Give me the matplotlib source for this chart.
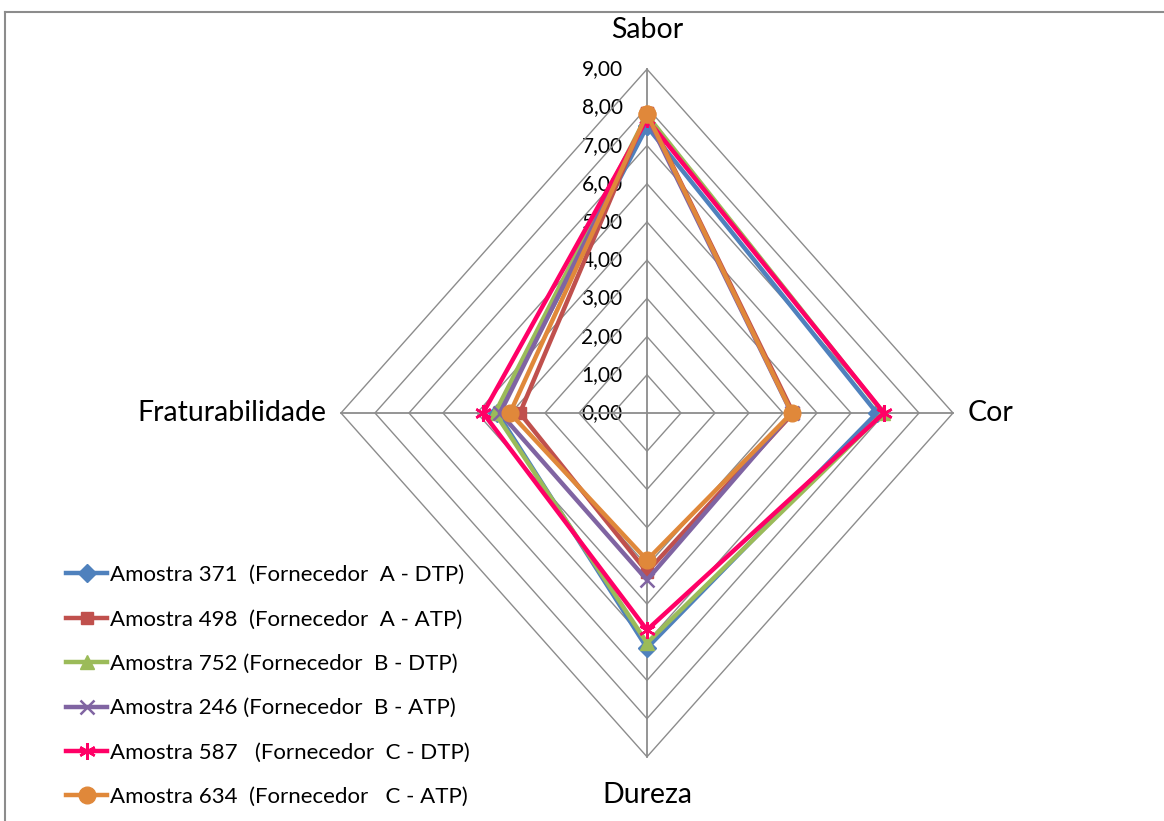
import numpy as np
import matplotlib
matplotlib.use("Agg")
import matplotlib.pyplot as plt
from matplotlib.lines import Line2D

plt.rcParams['font.family'] = ['Lato', 'DejaVu Sans']

# attributes, clockwise from the top
categories = ['Sabor', 'Cor', 'Dureza', 'Fraturabilidade']

labels = [
    'Amostra 371  (Fornecedor  A - DTP)',
    'Amostra 498  (Fornecedor  A - ATP)',
    'Amostra 752 (Fornecedor  B - DTP)',
    'Amostra 246 (Fornecedor  B - ATP)',
    'Amostra 587   (Fornecedor  C - DTP)',
    'Amostra 634  (Fornecedor   C - ATP)',
]

# mean scores per sample: Sabor, Cor, Dureza, Fraturabilidade
s371 = [7.50, 6.76, 6.15, 4.40]
s498 = [7.85, 4.30, 4.16, 3.74]
s752 = [7.80, 6.95, 6.02, 4.47]
s246 = [7.75, 4.25, 4.37, 4.32]
s587 = [7.70, 6.97, 5.68, 4.82]
s634 = [7.83, 4.26, 3.85, 4.03]

levels = [0, 1, 2, 3, 4, 5, 6, 7, 8, 9]

series = [s371, s498, s752, s246, s587, s634]
colors = ['#4F81BD', '#C0504D', '#9BBB59', '#8064A2', '#FF0066', '#E0883A']
markers = ['D', 's', '^', 'x', (6, 2, 0), 'o']
msizes = [9, 9, 10, 10, 12, 12]

# unit direction of each spoke (up, right, down, left)
dx = np.array([0, 1, 0, -1])
dy = np.array([1, 0, -1, 0])

W, H = 1164, 821
fig = plt.figure(figsize=(W / 100, H / 100), dpi=100)

# the chart is stretched: 34 px per unit across, 38.2 px per unit down
cx, cy = 647, 413
ux, uy = 34.0, 38.2
rmax = levels[-1]
ax = fig.add_axes([(cx - rmax * ux) / W, (H - cy - rmax * uy) / H,
                   2 * rmax * ux / W, 2 * rmax * uy / H])
ax.set_xlim(-rmax, rmax)
ax.set_ylim(-rmax, rmax)
ax.axis('off')

grid_col = '#8C8C8C'
for lv in levels[1:]:
    gx = np.append(dx * lv, dx[0] * lv)
    gy = np.append(dy * lv, dy[0] * lv)
    ax.plot(gx, gy, color=grid_col, lw=1.0, zorder=1, clip_on=False)
for i in range(len(categories)):
    ax.plot([0, dx[i] * rmax], [0, dy[i] * rmax], color=grid_col, lw=1.3,
            zorder=1, clip_on=False)

for lv in levels:
    ax.text(-0.72, lv, f"{lv:.2f}".replace('.', ','), ha='right', va='center',
            fontsize=15, zorder=0)

handles = []
for vals, col, mk, ms, lab in zip(series, colors, markers, msizes, labels):
    v = np.array(vals)
    px = np.append(v * dx, v[0] * dx[0])
    py = np.append(v * dy, v[0] * dy[0])
    mew = 1.8 if mk in ('x', (6, 2, 0)) else 1
    ax.plot(px, py, color=col, lw=3.2, marker=mk, markersize=ms,
            markeredgewidth=mew, markeredgecolor=col, zorder=3,
            clip_on=False, solid_joinstyle='miter')
    handles.append(Line2D([], [], color=col, lw=3.2, marker=mk, markersize=ms,
                          markeredgewidth=mew, markeredgecolor=col, label=lab))

# spoke titles
ax.text(0, 10.03, categories[0], ha='center', va='center', fontsize=20.5)
ax.text(9.42, 0, categories[1], ha='left', va='center', fontsize=20.5)
ax.text(0, -10.0, categories[2], ha='center', va='center', fontsize=20.5)
ax.text(-9.42, 0, categories[3], ha='right', va='center', fontsize=20.5)

leg = fig.legend(handles=handles, loc='upper left',
                 bbox_to_anchor=(66 / W, 1 - 565 / H), frameon=False,
                 fontsize=16, handlelength=1.85, handletextpad=0.12,
                 labelspacing=1.1, borderpad=0, borderaxespad=0)

# outer chart frame (top and left edges)
fig.add_artist(Line2D([5 / W, 1], [1 - 12 / H, 1 - 12 / H], color='#8C8C8C',
                      lw=1.5))
fig.add_artist(Line2D([5 / W, 5 / W], [0, 1 - 12 / H], color='#8C8C8C',
                      lw=1.5))

fig.savefig('out.png', dpi=100)
